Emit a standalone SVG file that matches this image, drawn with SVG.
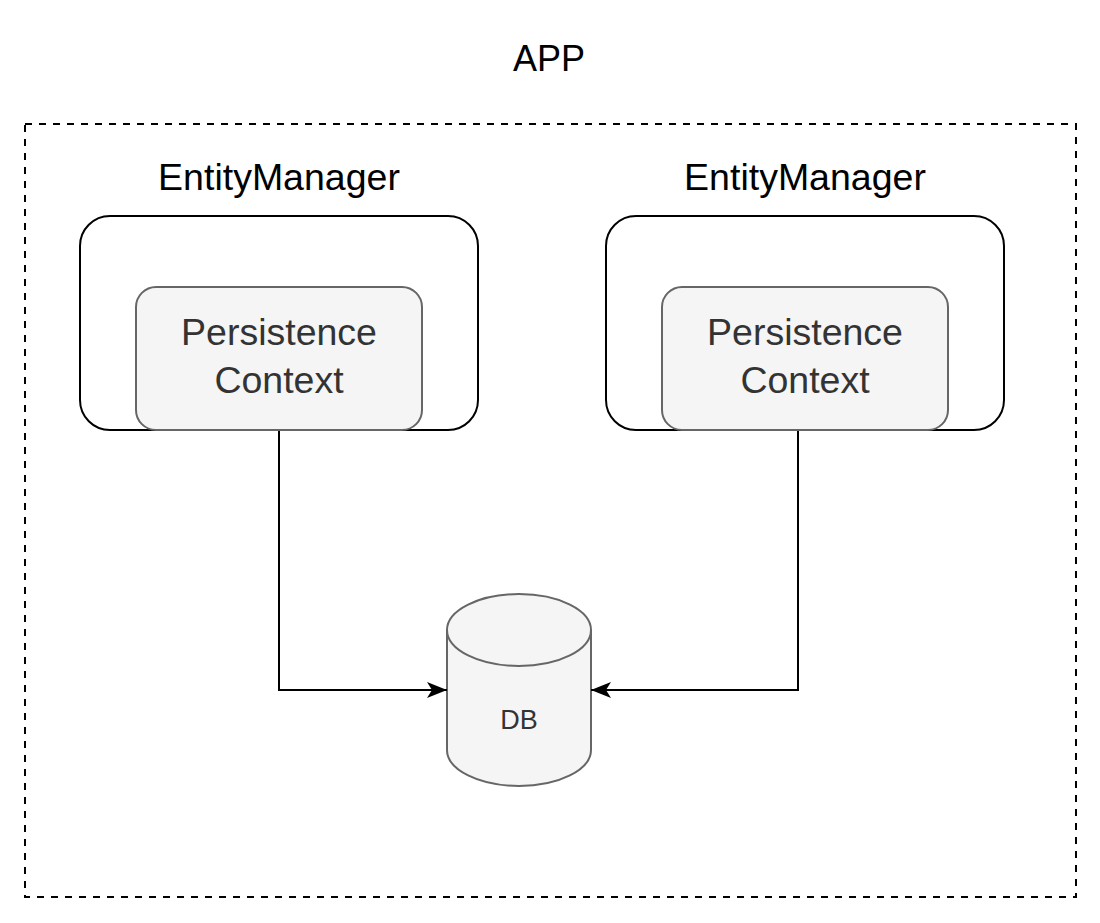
<svg xmlns="http://www.w3.org/2000/svg" width="1100" height="923" viewBox="0 0 1100 923">
<defs>
<style>
.t{font-family:"Liberation Sans",Arial,sans-serif;text-anchor:middle}
.em{fill:#fff;stroke:#000;stroke-width:2}
.pc{fill:#f5f5f5;stroke:#666;stroke-width:2}
.edge{fill:none;stroke:#000;stroke-width:2}
</style>
<marker id="arr" viewBox="0 0 20 16" refX="20" refY="8" markerWidth="20" markerHeight="16" markerUnits="userSpaceOnUse" orient="auto">
<path d="M0,0 L20,8 L0,16 L5,8 Z" fill="#000"/>
</marker>
</defs>
<rect width="1100" height="923" fill="#fff"/>
<g id="app">
<rect x="25" y="124" width="1051" height="773" fill="none" stroke="#000" stroke-width="2" stroke-dasharray="7 7"/>
<text class="t" x="549" y="71" font-size="36" fill="#000">APP</text>
</g>
<g id="em1">
<text class="t" x="279" y="190" font-size="37.5" fill="#000">EntityManager</text>
<rect class="em" x="80" y="216" width="398" height="214" rx="30"/>
</g>
<g id="pc1">
<rect class="pc" x="136" y="287" width="286" height="143" rx="20"/>
<text class="t" x="279" y="345" font-size="37.5" fill="#333">Persistence</text>
<text class="t" x="279" y="393" font-size="37.5" fill="#333">Context</text>
</g>
<g id="em2">
<text class="t" x="805" y="190" font-size="37.5" fill="#000">EntityManager</text>
<rect class="em" x="606" y="216" width="398" height="214" rx="30"/>
</g>
<g id="pc2">
<rect class="pc" x="662" y="287" width="286" height="143" rx="20"/>
<text class="t" x="805" y="345" font-size="37.5" fill="#333">Persistence</text>
<text class="t" x="805" y="393" font-size="37.5" fill="#333">Context</text>
</g>
<g id="db">
<path class="pc" d="M447,630 A72,36 0 0 1 591,630 L591,750 A72,36 0 0 1 447,750 Z"/>
<path d="M447,630 A72,36 0 0 0 591,630" fill="none" stroke="#666" stroke-width="2"/>
<text class="t" x="519" y="729" font-size="27" fill="#333">DB</text>
</g>
<g id="connectors">
<path class="edge" d="M279,431 L279,690 L447,690" marker-end="url(#arr)"/>
<path class="edge" d="M798,431 L798,690 L591,690" marker-end="url(#arr)"/>
</g>
</svg>
